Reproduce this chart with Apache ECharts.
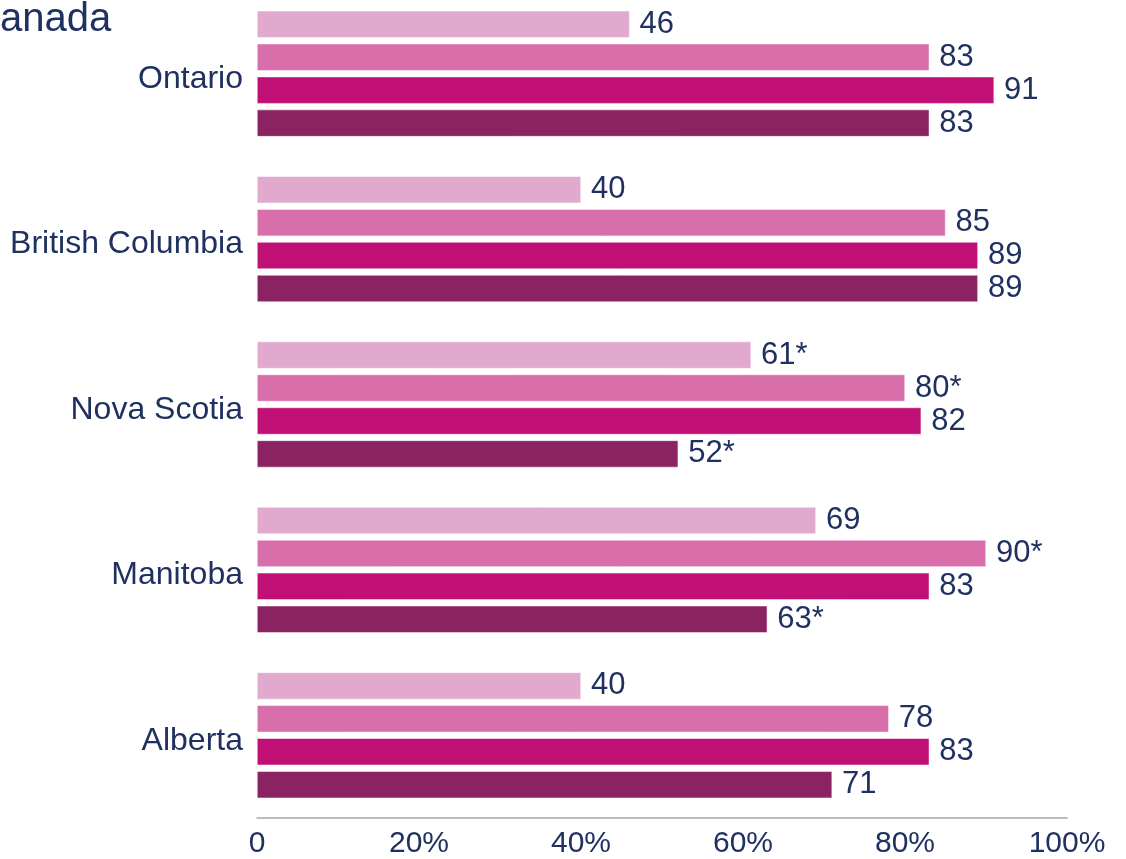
<!DOCTYPE html>
<html>
<head>
<meta charset="utf-8">
<script src="https://cdn.jsdelivr.net/npm/echarts@6/dist/echarts.min.js"></script>
<style>
  html, body { margin: 0; padding: 0; background: #fff; overflow: hidden; }
  /* the reference is cropped at the top, so the chart box starts a bit above the page */
  #chart { position: relative; top: -9px; width: 1126px; height: 868px; }
</style>
</head>
<body>
<div id="chart"></div>
<script>
// provinces, top to bottom
const provinces = ["Ontario", "British Columbia", "Nova Scotia", "Manitoba", "Alberta"];

// four series per province (light -> dark)
const s1 = [46, 40, 61, 69, 40];
const s2 = [83, 85, 80, 90, 78];
const s3 = [91, 89, 82, 83, 83];
const s4 = [83, 89, 52, 63, 71];

// asterisk flags on labels
const s1Star = [0, 0, 1, 0, 0];
const s2Star = [0, 0, 1, 1, 0];
const s3Star = [0, 0, 0, 0, 0];
const s4Star = [0, 0, 1, 1, 0];

const colors = ["#E0A9CD", "#D86FAB", "#C00F75", "#8B2261"];
const navy = "#1F3160";
const font = "Liberation Sans, Arial, sans-serif";

function makeSeries(vals, stars, color) {
  return {
    type: "bar",
    data: vals,
    barWidth: 27,
    barGap: "22%",
    itemStyle: { color: color, borderColor: "#fff", borderWidth: 0.5 },
    label: {
      show: true,
      position: "right",
      distance: 10,
      color: navy,
      fontFamily: font,
      fontSize: 31,
      formatter: p => p.value + (stars[p.dataIndex] ? "*" : "")
    }
  };
}

let option = {
  backgroundColor: "#fff",
  animation: false,
  graphic: [{
    type: "text",
    left: 0,
    top: 9,
    style: { text: "anada", fill: navy, font: "40px " + font }
  }],
  grid: {
    top: 0,
    left: 257,
    right: 59,
    bottom: 41
  },
  xAxis: {
    type: "value",
    min: 0,
    max: 100,
    interval: 20,
    axisLine: { show: true, lineStyle: { color: "#A6A6A6", width: 1.5 } },
    axisTick: { show: false },
    splitLine: { show: false },
    axisLabel: {
      color: navy,
      fontFamily: font,
      fontSize: 30,
      margin: 11,
      formatter: v => (v === 0 ? "0" : v + "%")
    }
  },
  yAxis: {
    type: "category",
    data: provinces,
    inverse: true,
    axisLine: { show: false },
    axisTick: { show: false },
    axisLabel: {
      margin: 14,
      formatter: v => "{p|" + v + "}",
      rich: {
        p: {
          color: navy,
          fontFamily: font,
          fontSize: 32,
          padding: [11, 0, 0, 0]
        }
      }
    }
  },
  series: [
    makeSeries(s1, s1Star, colors[0]),
    makeSeries(s2, s2Star, colors[1]),
    makeSeries(s3, s3Star, colors[2]),
    makeSeries(s4, s4Star, colors[3])
  ]
};

const dom = echarts.init(document.getElementById("chart"));
dom.setOption(option);
</script>
</body>
</html>
